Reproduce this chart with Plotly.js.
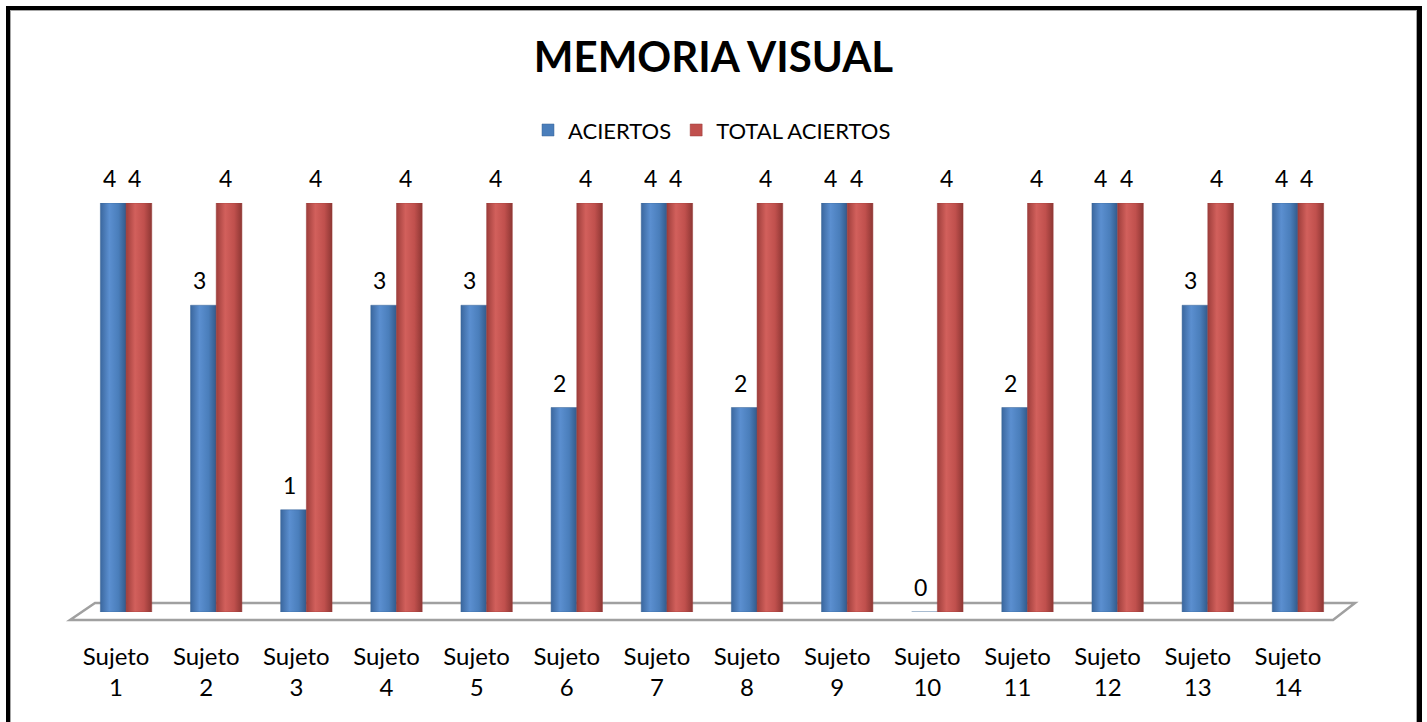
<!DOCTYPE html>
<html>
<head>
<meta charset="utf-8">
<script src="https://cdn.plot.ly/plotly-3.0.1.min.js"></script>
<style>
  html, body { margin: 0; padding: 0; background: #ffffff; width: 1427px; height: 722px; overflow: hidden; }
  #chart { position: absolute; left: 0; top: 0; width: 1427px; height: 722px; }
  #frame { position: absolute; left: 6px; top: 6px; width: 1407px; height: 716px;
           border-left: 4px solid #000; border-top: 4px solid #000; border-right: 5px solid #000;
           pointer-events: none; }
  #frameInner { position: absolute; left: 0; top: 0; right: 0; bottom: 1px;
           border: 1px solid #a6a6a6; }
</style>
</head>
<body>
<div id="chart"></div>
<div id="frame"><div id="frameInner"></div></div>
<script>
const categories = ["Sujeto<br>1","Sujeto<br>2","Sujeto<br>3","Sujeto<br>4","Sujeto<br>5","Sujeto<br>6","Sujeto<br>7",
                    "Sujeto<br>8","Sujeto<br>9","Sujeto<br>10","Sujeto<br>11","Sujeto<br>12","Sujeto<br>13","Sujeto<br>14"];
const aciertos = [4, 3, 1, 3, 3, 2, 4, 2, 4, 0, 2, 4, 3, 4];
const totalAciertos = [4, 4, 4, 4, 4, 4, 4, 4, 4, 4, 4, 4, 4, 4];
const seriesNames = ["ACIERTOS", "TOTAL ACIERTOS"];

const FONT = "Lato, 'Open Sans', 'Liberation Sans', sans-serif";
const xs = categories.map((_, i) => i);

const traces = [
  { type: 'bar', name: seriesNames[0], x: xs, y: aciertos,
    marker: { color: '#4A7EBB', line: { color: '#3A6596', width: 0.5 } }, hoverinfo: 'none' },
  { type: 'bar', name: seriesNames[1], x: xs, y: totalAciertos,
    marker: { color: '#C0504D', line: { color: '#9B3D3A', width: 0.5 } }, hoverinfo: 'none' }
];

const annotations = [];
aciertos.forEach((v, i) => annotations.push({ x: i - 0.1425, y: v, xref: 'x', yref: 'y', text: String(v),
  showarrow: false, yshift: 25, xshift: -4, font: { family: FONT, size: 23, color: '#000' } }));
totalAciertos.forEach((v, i) => annotations.push({ x: i + 0.1425, y: v, xref: 'x', yref: 'y', text: String(v),
  showarrow: false, yshift: 25, xshift: -4, font: { family: FONT, size: 23, color: '#000' } }));

const layout = {
  width: 1427, height: 722,
  paper_bgcolor: '#ffffff', plot_bgcolor: 'rgba(0,0,0,0)',
  margin: { l: 81, r: 84, t: 203, b: 110, pad: 0 },
  title: { text: '<b>MEMORIA VISUAL</b>', x: 0.5, xanchor: 'center', y: 0.92, yanchor: 'middle',
           font: { family: FONT, size: 42, color: '#000' } },
  showlegend: true,
  legend: { orientation: 'h', x: 0.5, xanchor: 'center', y: 1.178, yanchor: 'middle',
            font: { family: FONT, size: 22, color: '#000' }, itemwidth: 30, traceorder: 'normal' },
  barmode: 'group', bargap: 0.43, bargroupgap: 0,
  xaxis: { type: 'linear', range: [-0.5, 13.5], tickmode: 'array', tickvals: xs, ticktext: categories,
           showgrid: false, zeroline: false, showline: false,
           ticks: 'outside', ticklen: 23, tickcolor: 'rgba(0,0,0,0)', ticklabelshift: -10,
           tickfont: { family: FONT, size: 24, color: '#000' }, fixedrange: true },
  yaxis: { range: [0, 4], showgrid: false, zeroline: false, showline: false, showticklabels: false,
           ticks: '', fixedrange: true },
  shapes: [
    { type: 'path', xref: 'paper', yref: 'paper', layer: 'below',
      path: 'M -0.0087 -0.0196 L 0.9921 -0.0196 L 1.0095 0.022 L 0.0111 0.022 Z',
      line: { color: '#a0a0a0', width: 2.5 }, fillcolor: '#ffffff' }
  ],
  annotations: annotations
};

function addGradients(gd) {
  const svg = gd.querySelector('svg.main-svg');
  if (!svg) return;
  const ns = 'http://www.w3.org/2000/svg';
  let defs = svg.querySelector('defs');
  if (!defs) { defs = document.createElementNS(ns, 'defs'); svg.insertBefore(defs, svg.firstChild); }
  const grads = {
    gBlue: [['0%', '#3B679E'], ['35%', '#5B8FD0'], ['70%', '#4A7EBB'], ['100%', '#335A8A']],
    gRed:  [['0%', '#9E3E3B'], ['35%', '#D2605C'], ['70%', '#C0504D'], ['100%', '#8E3734']]
  };
  Object.keys(grads).forEach(id => {
    const lg = document.createElementNS(ns, 'linearGradient');
    lg.setAttribute('id', id); lg.setAttribute('x1', '0'); lg.setAttribute('x2', '1');
    lg.setAttribute('y1', '0'); lg.setAttribute('y2', '0');
    grads[id].forEach(([o, c]) => {
      const s = document.createElementNS(ns, 'stop');
      s.setAttribute('offset', o); s.setAttribute('stop-color', c); lg.appendChild(s);
    });
    defs.appendChild(lg);
  });
  const traceGroups = gd.querySelectorAll('.barlayer .trace');
  const ids = ['gBlue', 'gRed'];
  traceGroups.forEach((tg, k) => {
    tg.querySelectorAll('.point path').forEach(p => { p.style.fill = 'url(#' + ids[k] + ')'; });
  });
}

Plotly.newPlot('chart', traces, layout, { staticPlot: true, displayModeBar: false }).then(addGradients);
</script>
</body>
</html>
